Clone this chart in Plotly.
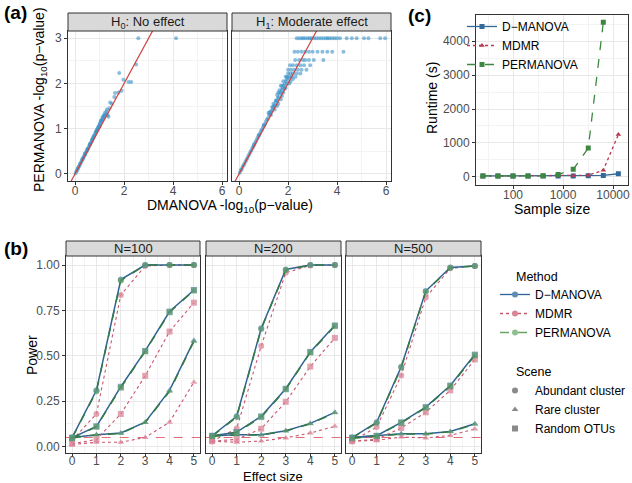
import plotly.graph_objects as go

W, H = 632, 483
def fx(p): return p / W
def fy(p): return 1 - p / H

FONT = "Liberation Sans, Arial, sans-serif"
TICKC = "#4d4d4d"
GRID = "#e8e8e8"
MINOR = "#f3f3f3"
BORDER = "#333333"

# ---------------- Panel (a) data: -log10(p) DMANOVA vs PERMANOVA ----------------
h0_x = [0.02, 0.05, 0.08, 0.10, 0.12, 0.15, 0.18, 0.20, 0.22, 0.25, 0.28, 0.30, 0.33, 0.35,
        0.38, 0.40, 0.42, 0.45, 0.48, 0.50, 0.52, 0.55, 0.58, 0.60, 0.62, 0.65, 0.68, 0.70,
        0.72, 0.75, 0.78, 0.80, 0.83, 0.85, 0.88, 0.90, 0.92, 0.95, 0.98, 1.00, 1.02, 1.05,
        1.08, 1.10, 1.12, 1.15, 1.18, 1.20, 1.22, 1.25, 1.28, 1.30, 1.33, 1.36, 1.40, 1.43,
        1.50, 1.60, 1.63, 1.77, 1.90, 1.80, 1.97, 2.18, 2.29, 2.49, 2.58, 4.12,
        0.30, 0.50, 0.70, 0.90, 1.00, 0.60, 0.40, 0.85, 1.15, 0.95, 1.05, 0.75]
h0_y = [0.01, 0.05, 0.07, 0.11, 0.12, 0.16, 0.18, 0.22, 0.23, 0.26, 0.30, 0.31, 0.35, 0.37,
        0.40, 0.43, 0.44, 0.48, 0.50, 0.53, 0.55, 0.58, 0.62, 0.64, 0.66, 0.69, 0.72, 0.75,
        0.78, 0.80, 0.84, 0.86, 0.90, 0.92, 0.95, 0.98, 1.00, 1.04, 1.06, 1.10, 1.12, 1.15,
        1.17, 1.20, 1.25, 1.22, 1.30, 1.28, 1.35, 1.32, 1.38, 1.42, 1.30, 1.26, 1.45, 1.58,
        1.55, 1.70, 1.79, 1.80, 1.84, 2.23, 2.08, 2.03, 2.03, 2.42, 3.00, 3.00,
        0.33, 0.55, 0.76, 0.97, 1.06, 0.66, 0.45, 0.93, 1.27, 1.02, 1.18, 0.83]

h1_x = [0.03, 0.07, 0.10, 0.14, 0.18, 0.22, 0.26, 0.30, 0.34, 0.38, 0.42, 0.46, 0.50, 0.54,
        0.58, 0.62, 0.66, 0.70, 0.74, 0.78, 0.82, 0.86, 0.90, 0.94, 0.98, 1.02, 1.06, 1.10,
        1.14, 1.18, 1.22, 1.26, 1.30, 1.34, 1.38, 1.42, 1.46, 1.50, 1.54, 1.58, 1.62, 1.66,
        1.70, 1.74, 1.78, 1.82, 1.86, 1.90, 1.95, 2.00,
        1.20, 1.30, 1.40, 1.45, 1.55, 1.60, 1.70, 1.75, 1.80, 1.85, 1.65, 1.60, 1.55, 1.90,
        1.95, 2.05, 1.80, 1.75, 1.90, 2.10, 2.20, 1.70, 1.50, 1.35, 1.25, 1.00, 0.80, 0.60,
        2.35, 2.45, 2.55, 2.62, 2.70, 2.80, 2.88, 2.95, 3.05, 3.15, 3.25, 3.35, 3.45, 3.55,
        3.62, 3.70, 3.80, 3.90, 4.00, 4.12, 4.39, 4.60, 4.80, 5.10, 5.28, 5.76, 5.96,
        2.26, 2.40, 2.55, 2.70, 2.85, 3.00, 3.20, 3.40, 3.60, 3.80, 4.26,
        2.29, 2.45, 2.60, 2.70, 2.85, 3.05, 3.44,
        2.08, 2.20, 2.35, 2.50, 2.65, 2.90,
        2.00, 2.12, 2.25, 2.40, 2.55, 2.75,
        2.00, 2.10, 2.20, 2.35, 2.50,
        1.95, 2.05, 2.15, 2.30]
h1_y = [0.02, 0.08, 0.10, 0.15, 0.19, 0.22, 0.27, 0.31, 0.35, 0.40, 0.44, 0.48, 0.52, 0.57,
        0.60, 0.65, 0.69, 0.73, 0.78, 0.82, 0.86, 0.90, 0.95, 0.98, 1.03, 1.07, 1.10, 1.16,
        1.20, 1.23, 1.30, 1.32, 1.38, 1.40, 1.46, 1.50, 1.52, 1.60, 1.62, 1.68, 1.70, 1.78,
        1.80, 1.86, 1.90, 1.95, 1.98, 2.05, 2.08, 2.12,
        1.35, 1.30, 1.55, 1.42, 1.50, 1.55, 1.65, 1.72, 1.80, 1.88, 1.85, 1.80, 1.75, 1.90,
        2.00, 2.00, 2.05, 1.95, 2.15, 2.05, 2.10, 1.95, 1.62, 1.48, 1.36, 1.08, 0.86, 0.64,
        3.00, 3.00, 3.00, 3.00, 3.00, 3.00, 3.00, 3.00, 3.00, 3.00, 3.00, 3.00, 3.00, 3.00,
        3.00, 3.00, 3.00, 3.00, 3.00, 3.00, 3.00, 3.00, 3.00, 3.00, 3.00, 3.00, 3.00,
        2.70, 2.70, 2.70, 2.70, 2.70, 2.70, 2.70, 2.70, 2.70, 2.70, 2.70,
        2.52, 2.52, 2.52, 2.52, 2.52, 2.52, 2.52,
        2.40, 2.40, 2.40, 2.40, 2.40, 2.40,
        2.30, 2.30, 2.30, 2.30, 2.30, 2.30,
        2.22, 2.22, 2.22, 2.22, 2.22,
        2.15, 2.15, 2.15, 2.15]
identity = [-1, 7]

# ---------------- Panel (b) data: power vs effect size ----------------
effect = [0, 1, 2, 3, 4, 5]
facets = ["N=100", "N=200", "N=500"]

p100_dman_abund = [0.050, 0.310, 0.920, 1.000, 1.000, 1.000]
p100_perm_abund = [0.048, 0.305, 0.915, 1.000, 1.000, 1.000]
p100_mdmr_abund = [0.035, 0.180, 0.835, 0.995, 1.000, 1.000]
p100_dman_rare = [0.050, 0.066, 0.075, 0.135, 0.310, 0.584]
p100_perm_rare = [0.048, 0.064, 0.073, 0.133, 0.305, 0.580]
p100_mdmr_rare = [0.012, 0.024, 0.024, 0.051, 0.135, 0.355]
p100_dman_rand = [0.050, 0.112, 0.330, 0.527, 0.744, 0.863]
p100_perm_rand = [0.046, 0.110, 0.325, 0.525, 0.740, 0.860]
p100_mdmr_rand = [0.015, 0.040, 0.180, 0.390, 0.634, 0.793]

p200_dman_abund = [0.060, 0.167, 0.652, 0.976, 1.000, 1.000]
p200_perm_abund = [0.058, 0.163, 0.648, 0.973, 1.000, 1.000]
p200_mdmr_abund = [0.030, 0.100, 0.555, 0.958, 0.998, 1.000]
p200_dman_rare = [0.060, 0.066, 0.066, 0.088, 0.128, 0.189]
p200_perm_rare = [0.058, 0.064, 0.064, 0.086, 0.126, 0.186]
p200_mdmr_rare = [0.030, 0.024, 0.031, 0.048, 0.075, 0.112]
p200_dman_rand = [0.060, 0.080, 0.167, 0.319, 0.522, 0.668]
p200_perm_rand = [0.057, 0.078, 0.163, 0.316, 0.519, 0.664]
p200_mdmr_rand = [0.030, 0.040, 0.099, 0.247, 0.441, 0.599]

p500_dman_abund = [0.050, 0.134, 0.440, 0.857, 0.987, 0.995]
p500_perm_abund = [0.048, 0.131, 0.436, 0.853, 0.985, 0.995]
p500_mdmr_abund = [0.030, 0.108, 0.392, 0.822, 0.982, 0.995]
p500_dman_rare = [0.050, 0.060, 0.071, 0.071, 0.084, 0.126]
p500_perm_rare = [0.048, 0.058, 0.069, 0.069, 0.082, 0.123]
p500_mdmr_rare = [0.030, 0.035, 0.053, 0.048, 0.062, 0.097]
p500_dman_rand = [0.050, 0.060, 0.134, 0.218, 0.337, 0.507]
p500_perm_rand = [0.047, 0.058, 0.131, 0.215, 0.333, 0.503]
p500_mdmr_rand = [0.030, 0.040, 0.103, 0.189, 0.310, 0.480]
alpha_level = 0.05

# ---------------- Panel (c) data: runtime vs sample size ----------------
sample_size = [25, 50, 100, 200, 400, 800, 1600, 3200, 6400, 12800]
rt_dmanova = [30, 30, 30, 30, 30, 30, 30, 35, 45, 95]
rt_mdmr = [30, 30, 30, 30, 30, 30, 35, 50, 200, 1250]
rt_permanova = [30, 30, 30, 30, 35, 70, 225, 850, 4550, None]

# ---------------- styles ----------------
C_BLUE = "#33699a"
C_RED = "#b8394f"
C_GREEN = "#3e8741"
B_BLUE = "#2e6494"
B_PINK = "#c9566f"
B_GREEN = "#357a45"

fig = go.Figure()

# Panel (a)
for xs, ys, xa, ya in [(h0_x, h0_y, "x", "y"), (h1_x, h1_y, "x2", "y2")]:
    fig.add_trace(go.Scatter(x=xs, y=ys, xaxis=xa, yaxis=ya, mode="markers",
                             marker=dict(size=4, color="#3b93c8", opacity=0.6),
                             showlegend=False, hoverinfo="skip"))
    fig.add_trace(go.Scatter(x=identity, y=identity, xaxis=xa, yaxis=ya, mode="lines",
                             line=dict(color="#d0413f", width=1.2),
                             showlegend=False, hoverinfo="skip"))

# Panel (b)
series_b = {
    "N=100": [(p100_dman_abund, p100_perm_abund, p100_mdmr_abund, "circle"),
              (p100_dman_rare, p100_perm_rare, p100_mdmr_rare, "triangle-up"),
              (p100_dman_rand, p100_perm_rand, p100_mdmr_rand, "square")],
    "N=200": [(p200_dman_abund, p200_perm_abund, p200_mdmr_abund, "circle"),
              (p200_dman_rare, p200_perm_rare, p200_mdmr_rare, "triangle-up"),
              (p200_dman_rand, p200_perm_rand, p200_mdmr_rand, "square")],
    "N=500": [(p500_dman_abund, p500_perm_abund, p500_mdmr_abund, "circle"),
              (p500_dman_rare, p500_perm_rare, p500_mdmr_rare, "triangle-up"),
              (p500_dman_rand, p500_perm_rand, p500_mdmr_rand, "square")],
}
for i, f in enumerate(facets):
    xa, ya = "x%d" % (4 + i), "y%d" % (4 + i)
    fig.add_trace(go.Scatter(x=[effect[0] - 1, effect[-1] + 1], y=[alpha_level, alpha_level],
                             xaxis=xa, yaxis=ya, mode="lines",
                             line=dict(color="#e06d78", width=1.1, dash="dash"),
                             showlegend=False, hoverinfo="skip"))
    for dman, perm, mdmr, sym in series_b[f]:
        fig.add_trace(go.Scatter(x=effect, y=mdmr, xaxis=xa, yaxis=ya, mode="lines+markers",
                                 line=dict(color=B_PINK, width=1.1, dash="dot"),
                                 marker=dict(symbol=sym, size=6, color="#d98598", opacity=0.75),
                                 showlegend=False, hoverinfo="skip"))
        fig.add_trace(go.Scatter(x=effect, y=dman, xaxis=xa, yaxis=ya, mode="lines+markers",
                                 line=dict(color=B_BLUE, width=1.5),
                                 marker=dict(symbol=sym, size=6, color="#5d8db5", opacity=0.7),
                                 showlegend=False, hoverinfo="skip"))
        fig.add_trace(go.Scatter(x=effect, y=perm, xaxis=xa, yaxis=ya, mode="lines+markers",
                                 line=dict(color=B_GREEN, width=1.5, dash="dash"),
                                 marker=dict(symbol=sym, size=6, color="#5e9a68", opacity=0.7),
                                 showlegend=False, hoverinfo="skip"))

# Legend entries for panel (b)
for name, col, mcol, dash in [("D\u2212MANOVA", B_BLUE, "#5d8db5", "solid"),
                              ("MDMR", B_PINK, "#d98598", "dot"),
                              ("PERMANOVA", "#6aa36a", "#8fbf8f", "dash")]:
    fig.add_trace(go.Scatter(x=[None], y=[None], xaxis="x4", yaxis="y4", mode="lines+markers",
                             name=name, legend="legend",
                             line=dict(color=col, width=1.3, dash=dash),
                             marker=dict(symbol="circle", size=6, color=mcol)))
for name, sym in [("Abundant cluster", "circle"), ("Rare cluster", "triangle-up"),
                  ("Random OTUs", "square")]:
    fig.add_trace(go.Scatter(x=[None], y=[None], xaxis="x4", yaxis="y4", mode="markers",
                             name=name, legend="legend2",
                             marker=dict(symbol=sym, size=6, color="#8a8a8a")))

# Panel (c)
for name, vals, col, dash, sym in [("D\u2212MANOVA", rt_dmanova, C_BLUE, "solid", "square"),
                                   ("MDMR", rt_mdmr, C_RED, "dot", "triangle-up"),
                                   ("PERMANOVA", rt_permanova, C_GREEN, "dash", "square")]:
    fig.add_trace(go.Scatter(x=sample_size, y=vals, xaxis="x3", yaxis="y3",
                             mode="lines+markers", name=name, legend="legend3",
                             line=dict(color=col, width=1.3, dash=dash),
                             marker=dict(symbol=sym, size=5, color=col)))

# ---------------- axes ----------------
def axis(domain, rng, **kw):
    d = dict(domain=domain, range=rng, showgrid=True, gridcolor=GRID, gridwidth=1,
             zeroline=False, showline=True, mirror=True, linecolor=BORDER, linewidth=1,
             ticks="outside", ticklen=3, tickcolor=BORDER, automargin=False,
             tickfont=dict(size=12, color=TICKC, family=FONT))
    d.update(kw)
    return d

XSTAND = -4
a_xr = [-0.29, 6.2]
a_yr = [-0.16, 3.16]
ya_dom = [fy(181), fy(31)]
minor_a_x = dict(showgrid=True, gridcolor=MINOR, dtick=1, tick0=0)
minor_a_y = dict(showgrid=True, gridcolor=MINOR, dtick=0.5, tick0=0)

layout = dict(
    width=W, height=H, margin=dict(l=0, r=0, t=0, b=0, autoexpand=False),
    paper_bgcolor="white", plot_bgcolor="white",
    font=dict(family=FONT, color="black"),
    xaxis=axis([fx(68), fx(227)], a_xr, dtick=2, tick0=0, anchor="y", minor=minor_a_x,
               ticklabelstandoff=XSTAND),
    yaxis=axis(ya_dom, a_yr, dtick=1, tick0=0, anchor="x", minor=minor_a_y),
    xaxis2=axis([fx(232), fx(391)], a_xr, dtick=2, tick0=0, anchor="y2", minor=minor_a_x,
                ticklabelstandoff=XSTAND),
    yaxis2=axis(ya_dom, a_yr, dtick=1, tick0=0, anchor="x2", showticklabels=False,
                ticks="", minor=minor_a_y),
    xaxis3=axis([fx(476), fx(628)], [1.26, 4.3], type="log", anchor="y3",
                tickvals=[100, 1000, 10000], ticktext=["100", "1000", "10000"],
                ticklabelstandoff=XSTAND,
                minor=dict(showgrid=True, gridcolor=MINOR, tickvals=[31.62, 316.2, 3162])),
    yaxis3=axis([fy(184.7), fy(14.6)], [-227, 4777], dtick=1000, tick0=0, anchor="x3",
                minor=dict(showgrid=True, gridcolor=MINOR, dtick=500, tick0=0)),
    legend=dict(x=fx(495), y=fy(280), xanchor="left", yanchor="top",
                font=dict(size=12, family=FONT), bgcolor="rgba(0,0,0,0)",
                tracegroupgap=0, itemclick=False),
    legend2=dict(x=fx(495), y=fy(376), xanchor="left", yanchor="top",
                 font=dict(size=12, family=FONT), bgcolor="rgba(0,0,0,0)",
                 tracegroupgap=0, itemclick=False),
    legend3=dict(x=fx(462), y=fy(12), xanchor="left", yanchor="top",
                 font=dict(size=12, family=FONT), bgcolor="rgba(0,0,0,0)",
                 tracegroupgap=0, itemclick=False),
)
b_doms = [(66, 200), (206, 341), (346, 481)]
for i, (l, r) in enumerate(b_doms):
    layout["xaxis%d" % (4 + i)] = axis([fx(l), fx(r)], [-0.25, 5.25], dtick=1, tick0=0,
                                       anchor="y%d" % (4 + i), ticklabelstandoff=-6,
                                       minor=dict(showgrid=True, gridcolor=MINOR, dtick=0.5, tick0=0))
    layout["yaxis%d" % (4 + i)] = axis([fy(453), fy(256)], [-0.035, 1.05], dtick=0.25, tick0=0,
                                       tickformat=".2f", anchor="x%d" % (4 + i),
                                       showticklabels=(i == 0), ticks="outside" if i == 0 else "",
                                       minor=dict(showgrid=True, gridcolor=MINOR, dtick=0.125, tick0=0))
fig.update_layout(**layout)

# ---------------- strips, labels ----------------
shapes = []
ann = []
strips = [(68, 227, 13, 31, "H<sub>0</sub>: No effect"),
          (232, 391, 13, 31, "H<sub>1</sub>: Moderate effect")]
for (l, r), f in zip(b_doms, facets):
    strips.append((l, r, 241, 256, f))
for l, r, t, b, txt in strips:
    shapes.append(dict(type="rect", xref="paper", yref="paper", x0=fx(l), x1=fx(r),
                       y0=fy(b), y1=fy(t), fillcolor="#d9d9d9",
                       line=dict(color=BORDER, width=1), layer="above"))
    ann.append(dict(text=txt, x=fx((l + r) / 2), y=fy((t + b) / 2), xref="paper", yref="paper",
                    xanchor="center", yanchor="middle", showarrow=False,
                    font=dict(size=13, color="#1a1a1a", family=FONT)))

def label(txt, x, y, size=14, angle=0, bold=False, xanchor="center"):
    ann.append(dict(text=("<b>%s</b>" % txt) if bold else txt, x=fx(x), y=fy(y),
                    xref="paper", yref="paper", xanchor=xanchor, yanchor="middle",
                    showarrow=False, textangle=angle,
                    font=dict(size=size, color="black", family=FONT)))

label("(a)", 2, 12, size=19, bold=True, xanchor="left")
label("(b)", 2, 248, size=19, bold=True, xanchor="left")
label("(c)", 406, 16, size=19, bold=True, xanchor="left")
label("PERMANOVA -log<sub>10</sub>(p\u2212value)", 40, 100, size=14, angle=-90)
label("DMANOVA -log<sub>10</sub>(p\u2212value)", 230, 206, size=14)
label("Power", 32, 355, size=14, angle=-90)
label("Effect size", 273, 476, size=13)
label("Runtime (s)", 432, 98, size=14, angle=-90)
label("Sample size", 552, 209, size=14)
label("Method", 514, 277, size=12.5, xanchor="left")
label("Scene", 514, 372, size=12.5, xanchor="left")

fig.update_layout(shapes=shapes, annotations=ann)
fig.write_html("out.html", config={"displayModeBar": False},
               post_script="document.body.style.margin='0px';document.body.style.overflow='hidden';")
